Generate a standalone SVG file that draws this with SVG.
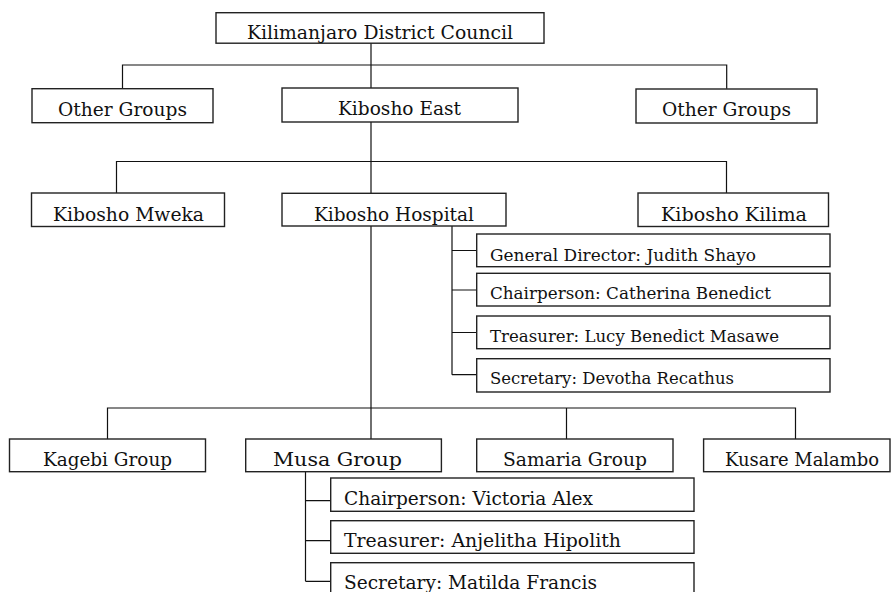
<svg xmlns="http://www.w3.org/2000/svg" width="892" height="592" viewBox="0 0 892 592">
<style>
.box{fill:#fff;stroke:#222;stroke-width:1.4}
.t{font-family:"DejaVu Serif","Liberation Serif",serif;font-size:18.5px;fill:#111}
.s{font-family:"DejaVu Serif","Liberation Serif",serif;font-size:16.5px;fill:#111}
.c{fill:none;stroke:#111;stroke-width:1.2}
</style>
<rect width="892" height="592" fill="#fff"/>
<g id="connectors" class="c">
<path d="M371 43V88M122.5 88.7V65H726.7V88.7"/>
<path d="M371 122V193M116.5 193V161.5H726.5V193"/>
<path d="M371 226V439M107.5 439V408H795.5V439M566.5 408V439"/>
<path d="M452 226V374.7M452 250.5H476.7M452 290H476.7M452 332.5H476.7M452 374.7H476.7"/>
<path d="M305.5 472V581.3M305.5 500.7H330.7M305.5 540.7H330.7M305.5 581.3H330.7"/>
</g>
<g id="n-council"><rect class="box" x="216" y="12.7" width="328" height="30.5"/><text class="t" x="247" y="39" textLength="266" lengthAdjust="spacingAndGlyphs">Kilimanjaro District Council</text></g>
<g id="n-other-left"><rect class="box" x="32" y="88.7" width="181" height="34"/><text class="t" x="58" y="115.5" textLength="129" lengthAdjust="spacingAndGlyphs">Other Groups</text></g>
<g id="n-kibosho-east"><rect class="box" x="282" y="88" width="236" height="34"/><text class="t" x="338" y="115" textLength="123" lengthAdjust="spacingAndGlyphs">Kibosho East</text></g>
<g id="n-other-right"><rect class="box" x="636" y="89" width="181" height="34"/><text class="t" x="662" y="116" textLength="129" lengthAdjust="spacingAndGlyphs">Other Groups</text></g>
<g id="n-mweka"><rect class="box" x="31.5" y="193" width="193" height="33.5"/><text class="t" x="53" y="220.5" textLength="151" lengthAdjust="spacingAndGlyphs">Kibosho Mweka</text></g>
<g id="n-hospital"><rect class="box" x="282" y="193.3" width="224" height="32.7"/><text class="t" x="314" y="220.7" textLength="160" lengthAdjust="spacingAndGlyphs">Kibosho Hospital</text></g>
<g id="n-kilima"><rect class="box" x="638" y="193" width="190.5" height="33.5"/><text class="t" x="661" y="220.5" textLength="146" lengthAdjust="spacingAndGlyphs">Kibosho Kilima</text></g>
<g id="n-gd"><rect class="box" x="476.7" y="234" width="353.3" height="32.7"/><text class="s" x="490" y="260.7" textLength="266" lengthAdjust="spacingAndGlyphs">General Director: Judith Shayo</text></g>
<g id="n-hchair"><rect class="box" x="476.7" y="273.3" width="353.3" height="32.7"/><text class="s" x="490" y="299" textLength="281" lengthAdjust="spacingAndGlyphs">Chairperson: Catherina Benedict</text></g>
<g id="n-htreas"><rect class="box" x="476.7" y="316" width="353.3" height="32.7"/><text class="s" x="490" y="341.7" textLength="289" lengthAdjust="spacingAndGlyphs">Treasurer: Lucy Benedict Masawe</text></g>
<g id="n-hsec"><rect class="box" x="476.7" y="358.7" width="353.3" height="33.3"/><text class="s" x="490" y="384" textLength="244" lengthAdjust="spacingAndGlyphs">Secretary: Devotha Recathus</text></g>
<g id="n-kagebi"><rect class="box" x="9.5" y="439" width="196" height="32.7"/><text class="t" x="43" y="466" textLength="129" lengthAdjust="spacingAndGlyphs">Kagebi Group</text></g>
<g id="n-musa"><rect class="box" x="245.7" y="439" width="195.7" height="32.7"/><text class="t" x="273" y="466" textLength="129" lengthAdjust="spacingAndGlyphs">Musa Group</text></g>
<g id="n-samaria"><rect class="box" x="476.7" y="439" width="196.3" height="32.7"/><text class="t" x="503" y="466" textLength="144" lengthAdjust="spacingAndGlyphs">Samaria Group</text></g>
<g id="n-kusare"><rect class="box" x="703.6" y="439" width="186.4" height="32.7"/><text class="t" x="725" y="466" textLength="154" lengthAdjust="spacingAndGlyphs">Kusare Malambo</text></g>
<g id="n-mchair"><rect class="box" x="330.7" y="478" width="363.3" height="33.3"/><text class="t" x="344" y="505" textLength="249" lengthAdjust="spacingAndGlyphs">Chairperson: Victoria Alex</text></g>
<g id="n-mtreas"><rect class="box" x="330.7" y="520.7" width="363.3" height="32.6"/><text class="t" x="344" y="547" textLength="277" lengthAdjust="spacingAndGlyphs">Treasurer: Anjelitha Hipolith</text></g>
<g id="n-msec"><rect class="box" x="330.7" y="562.7" width="363.3" height="40"/><text class="t" x="344" y="589" textLength="253" lengthAdjust="spacingAndGlyphs">Secretary: Matilda Francis</text></g>
</svg>
